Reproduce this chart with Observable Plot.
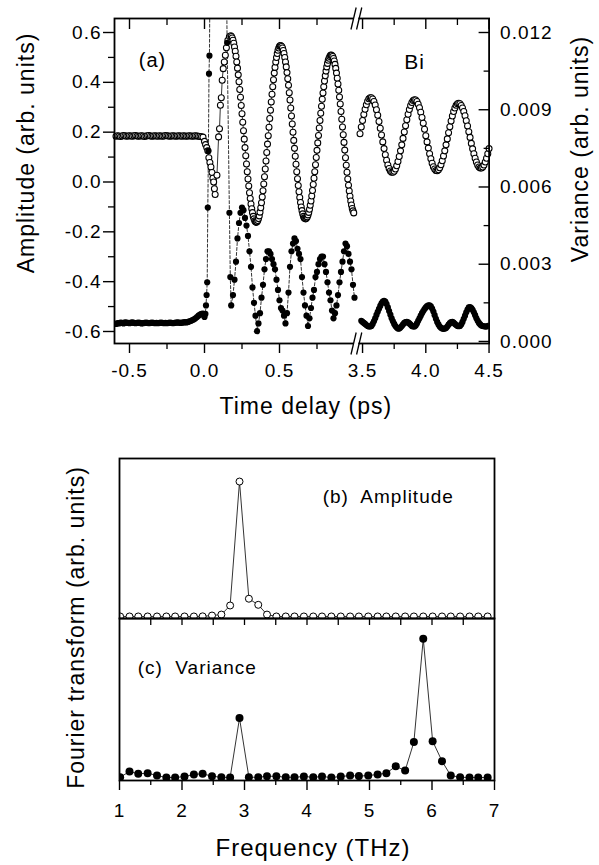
<!DOCTYPE html>
<html><head><meta charset="utf-8">
<script src="https://cdn.jsdelivr.net/npm/d3@7"></script>
<script src="https://cdn.jsdelivr.net/npm/@observablehq/plot@0.6"></script>
<style>
body{margin:0;background:#fff}
#fig{position:relative;width:599px;height:865px;background:#fff}
#fig svg{position:absolute;left:0;top:0}
</style></head><body><div id="fig"></div>
<script>
// ---------- DATA ----------
// Panel (a): time delay (ps) vs amplitude (left axis, arb. units)
const amplitudeLeft = [[-0.59,.184],[-0.58,.186],[-0.57,.185],[-0.56,.183],[-0.55,.185],[-0.54,.187],[-0.53,.186],[-0.52,.184],[-0.51,.185],[-0.50,.186],
[-0.49,.185],[-0.48,.184],[-0.47,.186],[-0.46,.187],[-0.45,.185],[-0.44,.184],[-0.43,.185],[-0.42,.186],[-0.41,.185],[-0.40,.183],
[-0.39,.185],[-0.38,.186],[-0.37,.187],[-0.36,.185],[-0.35,.184],[-0.34,.185],[-0.33,.186],[-0.32,.185],[-0.31,.184],[-0.30,.186],
[-0.29,.185],[-0.28,.184],[-0.27,.185],[-0.26,.187],[-0.25,.186],[-0.24,.185],[-0.23,.184],[-0.22,.185],[-0.21,.186],[-0.20,.185],
[-0.19,.184],[-0.18,.185],[-0.17,.186],[-0.16,.185],[-0.15,.184],[-0.14,.186],[-0.13,.185],[-0.12,.184],[-0.11,.185],[-0.10,.186],
[-0.09,.185],[-0.08,.184],[-0.07,.185],[-0.06,.186],[-0.05,.185],[-0.04,.184],[-0.03,.183],[-0.02,.182],[-0.01,.18],
[0,.163],[0.007,.15],[0.015,.138],[0.022,.125],[0.029,.097],[0.036,.078],[0.043,.06],[0.05,.038],[0.056,.015],[0.061,0],[0.066,-.027],[0.071,-.05],
[0.083,.027],[0.094,.181],[0.1,.214],[0.106,.308],[0.112,.338],[0.118,.408],[0.125,.455],[0.132,.482],[0.139,.509],[0.146,.539],[0.156,.569],[0.166,.584],[0.175,.587],
[0.18,.584],[0.185,.578],[0.19,.569],[0.195,.557],[0.2,.542],[0.205,.525],[0.21,.505],[0.215,.482],[0.22,.457],[0.225,.43],[0.23,.402],[0.235,.371],[0.24,.34],[0.245,.307],[0.25,.274],[0.255,.24],[0.26,.206],[0.265,.172],[0.27,.138],[0.275,.105],
[0.28,.072],[0.285,.041],[0.29,.012],[0.295,-.016],[0.3,-.043],[0.305,-.066],[0.31,-.088],[0.315,-.107],[0.32,-.123],[0.325,-.138],[0.33,-.148],[0.335,-.156],[0.34,-.16],[0.345,-.162],[0.35,-.16],[0.355,-.155],[0.36,-.147],[0.365,-.136],[0.37,-.121],[0.375,-.103],
[0.38,-.083],[0.385,-.06],[0.39,-.035],[0.395,-.008],[0.4,.021],[0.405,.052],[0.41,.084],[0.415,.118],[0.42,.152],[0.425,.186],[0.43,.22],[0.435,.255],[0.44,.288],[0.445,.321],[0.45,.352],[0.455,.382],[0.46,.41],[0.465,.437],[0.47,.46],[0.475,.482],
[0.48,.5],[0.485,.516],[0.49,.529],[0.495,.538],[0.5,.545],[0.505,.548],[0.51,.547],[0.515,.544],[0.52,.538],[0.525,.528],[0.53,.516],[0.535,.5],[0.54,.482],[0.545,.462],[0.55,.439],[0.555,.414],[0.56,.388],[0.565,.358],[0.57,.329],[0.575,.297],
[0.58,.265],[0.585,.233],[0.59,.2],[0.595,.167],[0.6,.135],[0.605,.103],[0.61,.071],[0.615,.041],[0.62,.013],[0.625,-.014],[0.63,-.039],[0.635,-.062],[0.64,-.082],[0.645,-.1],[0.65,-.115],[0.655,-.128],[0.66,-.138],[0.665,-.144],[0.67,-.147],[0.675,-.148],
[0.68,-.145],[0.685,-.14],[0.69,-.132],[0.695,-.122],[0.7,-.109],[0.705,-.093],[0.71,-.076],[0.715,-.056],[0.72,-.034],[0.725,-.01],[0.73,.015],[0.735,.041],[0.74,.069],[0.745,.098],[0.75,.127],[0.755,.157],[0.76,.187],[0.765,.217],[0.77,.247],[0.775,.276],
[0.78,.304],[0.785,.332],[0.79,.357],[0.795,.382],[0.8,.405],[0.805,.426],[0.81,.445],[0.815,.462],[0.82,.476],[0.825,.489],[0.83,.497],[0.835,.504],[0.84,.509],[0.845,.51],[0.85,.508],[0.855,.504],[0.86,.496],[0.865,.486],[0.87,.472],[0.875,.456],
[0.88,.437],[0.885,.416],[0.89,.393],[0.895,.368],[0.9,.341],[0.905,.313],[0.91,.283],[0.915,.252],[0.92,.221],[0.925,.19],[0.93,.159],[0.935,.128],[0.94,.097],[0.945,.067],[0.95,.039],[0.955,.012],[0.96,-.013],[0.965,-.036],[0.97,-.057],[0.975,-.076],
[0.98,-.092],[0.985,-.106],[0.99,-.116],[0.995,-.124]];

const amplitudeRight = [[3.48,.194],[3.49,.221],[3.5,.247],[3.51,.271],[3.52,.292],[3.53,.31],[3.54,.324],[3.55,.334],[3.56,.338],[3.57,.338],[3.58,.333],[3.59,.323],[3.6,.309],[3.61,.29],[3.62,.268],[3.63,.243],[3.64,.216],[3.65,.189],[3.66,.161],[3.67,.134],[3.68,.109],[3.69,.087],[3.7,.068],[3.71,.054],[3.72,.044],[3.73,.039],
[3.74,.039],[3.75,.043],[3.76,.052],[3.77,.065],[3.78,.082],[3.79,.102],[3.8,.125],[3.81,.149],[3.82,.175],[3.83,.201],[3.84,.226],[3.85,.25],[3.86,.272],[3.87,.291],[3.88,.307],[3.89,.319],[3.9,.327],[3.91,.33],
[3.92,.329],[3.93,.323],[3.94,.312],[3.95,.298],[3.96,.28],[3.97,.259],[3.98,.236],[3.99,.212],[4,.186],[4.01,.161],[4.02,.136],[4.03,.113],[4.04,.093],[4.05,.075],[4.06,.061],[4.07,.052],[4.08,.046],
[4.09,.045],[4.1,.049],[4.11,.057],[4.12,.069],[4.13,.085],[4.14,.104],[4.15,.125],[4.16,.149],[4.17,.173],[4.18,.198],[4.19,.222],[4.2,.245],[4.21,.265],[4.22,.283],[4.23,.297],[4.24,.308],[4.25,.314],
[4.26,.316],[4.27,.314],[4.28,.307],[4.29,.297],[4.3,.283],[4.31,.266],[4.32,.246],[4.33,.225],[4.34,.202],[4.35,.179],[4.36,.155],[4.37,.133],[4.38,.113],[4.39,.095],[4.4,.08],[4.41,.068],[4.42,.06],[4.43,.056],
[4.44,.056],[4.45,.06],[4.46,.068],[4.47,.08],[4.48,.095],[4.49,.113],[4.5,.134]];

// Panel (a): variance (right axis)
const varianceLeft = [[-0.59,.00068],[-0.58,.00071],[-0.57,.0007],[-0.56,.00073],[-0.55,.00072],[-0.54,.0007],[-0.53,.00074],[-0.52,.00073],[-0.51,.00072],[-0.50,.00071],
[-0.49,.00073],[-0.48,.00074],[-0.47,.00072],[-0.46,.00071],[-0.45,.00072],[-0.44,.00073],[-0.43,.00072],[-0.42,.0007],[-0.41,.00071],[-0.40,.00072],
[-0.39,.00073],[-0.38,.00072],[-0.37,.00071],[-0.36,.00072],[-0.35,.00073],[-0.34,.00072],[-0.33,.00071],[-0.32,.00072],[-0.31,.00071],[-0.30,.00072],
[-0.29,.00073],[-0.28,.00072],[-0.27,.00071],[-0.26,.00072],[-0.25,.00071],[-0.24,.00072],[-0.23,.00073],[-0.22,.00072],[-0.21,.00071],[-0.20,.00072],
[-0.19,.00073],[-0.18,.00074],[-0.17,.00073],[-0.16,.00072],[-0.15,.00073],[-0.14,.00074],[-0.13,.00075],[-0.12,.00074],[-0.11,.00076],[-0.10,.00078],
[-0.09,.0008],[-0.08,.00083],[-0.07,.00086],[-0.06,.0009],[-0.05,.00095],[-0.04,.001],[-0.03,.00104],[-0.02,.00107],[-0.01,.00108],
[0,.00095],[0.006,.00107],[0.01,.0014],[0.014,.0018],[0.018,.0023],[0.022,.0052],[0.026,.0074],[0.03,.0104],[0.033,.0111],[0.04,.017],[0.06,.026],[0.09,.03],[0.12,.026],[0.14,.018],[0.146,.014],[0.151,.0116],[0.166,.005],[0.172,.0025],[0.178,.0014],
[0.19,.0018],[0.2,.0024],[0.21,.0031],[0.22,.004],[0.23,.0046],[0.24,.005],[0.25,.0052],[0.26,.0051],[0.27,.0048],[0.28,.0045],[0.29,.0041],[0.3,.0035],[0.31,.0029],[0.32,.0021],[0.33,.0015],[0.34,.001],[0.35,.0004],
[0.36,.0007],[0.37,.0011],[0.38,.0017],[0.39,.0022],[0.4,.0028],[0.41,.0032],[0.42,.0035],[0.43,.0035],[0.44,.0034],[0.45,.0032],[0.46,.003],[0.47,.0028],[0.48,.0024],[0.49,.002],[0.5,.0016],[0.51,.0013],[0.52,.0012],[0.53,.001],[0.54,.0007],
[0.55,.0011],[0.56,.0019],[0.57,.0029],[0.58,.0035],[0.59,.0038],[0.6,.004],[0.61,.0039],[0.62,.0036],[0.63,.0034],[0.64,.0032],[0.65,.0025],[0.66,.0019],[0.67,.0014],[0.68,.001],[0.69,.0006],
[0.7,.0009],[0.71,.0013],[0.72,.0017],[0.73,.002],[0.74,.0025],[0.75,.0027],[0.76,.003],[0.77,.0032],[0.78,.0033],[0.79,.0033],[0.8,.003],[0.81,.0027],[0.82,.0023],[0.83,.0019],[0.84,.0016],[0.85,.0012],[0.86,.0009],
[0.87,.0011],[0.88,.0014],[0.89,.0018],[0.9,.0023],[0.91,.0027],[0.92,.0031],[0.93,.0035],[0.94,.0038],[0.95,.0037],[0.96,.0034],[0.97,.0031],[0.98,.0028],[0.99,.0022],[1.0,.0017]];

const varianceRight = [[3.49,.0008],[3.5,.00076],[3.51,.00072],[3.52,.00068],[3.53,.00064],[3.54,.0006],[3.55,.00058],[3.56,.00058],[3.57,.0006],[3.58,.00068],[3.59,.00078],[3.6,.0009],[3.61,.00103],[3.62,.00115],[3.63,.00127],[3.64,.00138],[3.65,.00148],[3.66,.00155],[3.67,.00158],[3.68,.00155],[3.69,.00145],[3.7,.00132],[3.71,.00118],[3.72,.00104],[3.73,.0009],[3.74,.00078],[3.75,.00068],[3.76,.0006],[3.77,.00054],[3.78,.0005],[3.79,.0005],
[3.8,.00054],[3.81,.0006],[3.82,.00066],[3.83,.00072],[3.84,.00075],[3.85,.00076],[3.86,.00074],[3.87,.0007],[3.88,.00065],[3.89,.0006],[3.9,.00058],[3.91,.00058],[3.92,.00062],[3.93,.0007],[3.94,.0008],[3.95,.0009],[3.96,.001],[3.97,.0011],[3.98,.00118],[3.99,.00126],
[4,.00132],[4.01,.00137],[4.02,.0014],[4.03,.0014],[4.04,.00136],[4.05,.00128],[4.06,.00116],[4.07,.00102],[4.08,.00088],[4.09,.00076],[4.1,.00066],[4.11,.00058],[4.12,.00053],[4.13,.0005],[4.14,.00049],[4.15,.0005],[4.16,.00052],[4.17,.00058],[4.18,.00065],[4.19,.00071],
[4.2,.00075],[4.21,.00076],[4.22,.00073],[4.23,.00068],[4.24,.00064],[4.25,.0006],[4.26,.00059],[4.27,.0006],[4.28,.00066],[4.29,.00076],[4.3,.00088],[4.31,.001],[4.32,.00113],[4.33,.00124],[4.34,.00132],[4.35,.00133],[4.36,.0013],[4.37,.00123],[4.38,.00113],[4.39,.00102],
[4.4,.0009],[4.41,.0008],[4.42,.00072],[4.43,.00066],[4.44,.00062],[4.45,.0006],[4.46,.00059],[4.47,.00058],[4.48,.00058],[4.49,.0006],[4.5,.00062]];

// Panels (b), (c): Fourier transforms (arb. units) vs frequency (THz)
const frequency = [1.01,1.16,1.30,1.45,1.60,1.75,1.89,2.04,2.19,2.33,2.48,2.63,2.77,2.92,3.07,3.22,3.36,3.51,3.66,3.80,3.95,4.10,4.24,4.39,4.54,4.69,4.83,4.98,5.13,5.27,5.42,5.57,5.71,5.86,6.01,6.16,6.30,6.45,6.60,6.74,6.89];
const ftAmplitude = [.004,.004,.004,.004,.004,.004,.004,.004,.004,.005,.011,.018,.085,1.0,.135,.09,.018,.004,.004,.004,.004,.004,.004,.004,.004,.004,.004,.004,.004,.004,.004,.004,.004,.004,.004,.004,.004,.004,.004,.004,.004];
const ftVariance = [.002,.043,.027,.031,.014,0,0,.007,.022,.027,.009,.002,0,.428,.002,.002,.009,.009,.002,.002,.007,.002,.007,0,.007,.014,.01,.014,.022,.031,.081,.05,.255,1.0,.262,.118,.014,.002,0,0,0];

// Axis tick values and labels
const timeTicks = [-0.5, 0, 0.5, 3.5, 4.0, 4.5];
const timeMinorTicks = [-0.25, 0.25, 0.75, 3.75, 4.25];
const amplitudeTicks = [-0.6, -0.4, -0.2, 0, 0.2, 0.4, 0.6];
const amplitudeMinorTicks = [-0.5, -0.3, -0.1, 0.1, 0.3, 0.5];
const varianceTicks = [0, 0.003, 0.006, 0.009, 0.012];
const varianceMinorTicks = [0.0015, 0.0045, 0.0075, 0.0105];
const frequencyTicks = [1, 2, 3, 4, 5, 6, 7];
const frequencyMinorTicks = [1.5, 2.5, 3.5, 4.5, 5.5, 6.5];
const frequencyTopTicks = [1.5, 2, 2.5, 3, 3.5, 4, 4.5, 5, 5.5, 6, 6.5];
const axisBreak = [1.005, 3.46];   // time axis jumps from ~1 ps to ~3.46 ps

// ---------- LAYOUT / SCALES ----------
const W = 599, H = 865;
const FONT = '"Liberation Sans", Arial, Helvetica, sans-serif';
// broken time axis: two linear pieces mapped to one continuous coordinate
const toU = t => (t < 2 ? 150 * t : 221.3 + 126.5 * (t - 4));
const fromU = u => (u < 152 ? u / 150 : 4 + (u - 221.3) / 126.5);
// right (variance) axis expressed in left-axis units
const V0 = -0.640, VK = 1.240 / 0.012;
const varToY = v => V0 + v * VK;
const yToVar = y => (y - V0) / VK;

const rows = (pairs, seg) => pairs.map(([t, v]) => ({u: toU(t), v, seg}));
const ampRows = [...rows(amplitudeLeft, "L"), ...rows(amplitudeRight, "R")];
const varRows = [...rows(varianceLeft, "L"), ...rows(varianceRight, "R")].map(d => ({...d, y: varToY(d.v)}));

const yDomA = [-0.6482, 0.6562];
const pxA = (yDomA[1] - yDomA[0]) / (343 - 18);
const bL = toU(axisBreak[0]), bR = toU(axisBreak[1]), bMid = (bL + bR) / 2;
const edges = [yDomA[1], yDomA[0]];
const slashes = edges.flatMap(e => [-2.8, 2.8].map(o => ({x1: bMid + o - 2.6, x2: bMid + o + 2.6, y1: e - 11 * pxA, y2: e + 11 * pxA})));

const styleBase = {background: "transparent", overflow: "visible", fontFamily: FONT, color: "black", letterSpacing: "1px"};
const TICKFS = 19;

const A = Plot.plot({
  width: W, height: H,
  marginLeft: 114, marginRight: W - 488.6, marginTop: 18, marginBottom: H - 343,
  style: styleBase,
  x: {domain: [-90, 284.6]},
  y: {domain: yDomA},
  marks: [
    Plot.line(ampRows, {x: "u", y: "v", z: "seg", stroke: "black", strokeWidth: 0.8}),
    Plot.line(varRows, {x: "u", y: "y", z: "seg", stroke: "black", strokeWidth: 0.8, strokeDasharray: "3,2", clip: true}),
    Plot.dot(ampRows, {x: "u", y: "v", r: 3, fill: "white", stroke: "black", strokeWidth: 1.05}),
    Plot.dot(varRows, {x: "u", y: "y", r: 3.1, fill: "black", clip: true}),
    Plot.frame({stroke: "black", strokeWidth: 1.8}),
    // axis break
    Plot.rect(edges, {x1: () => bMid - 2.4, x2: () => bMid + 2.4, y1: e => e - 2.5 * pxA, y2: e => e + 2.5 * pxA, fill: "white"}),
    Plot.link(slashes, {x1: "x1", y1: "y1", x2: "x2", y2: "y2", stroke: "black", strokeWidth: 1.3}),
    // bottom axis
    Plot.axisX(timeTicks.map(toU), {anchor: "bottom", tickSize: 10, tickPadding: 10, strokeWidth: 1.4, fontSize: TICKFS, fontFamily: FONT, tickFormat: u => fromU(u).toFixed(1), label: null}),
    Plot.axisX(timeMinorTicks.map(toU), {anchor: "bottom", tickSize: 6, strokeWidth: 1.3, fill: "none"}),
    // top axis (inward ticks)
    Plot.axisX(timeTicks.map(toU), {anchor: "top", tickSize: 10, dy: 10, strokeWidth: 1.4, fill: "none"}),
    Plot.axisX(timeMinorTicks.map(toU), {anchor: "top", tickSize: 6, dy: 6, strokeWidth: 1.3, fill: "none"}),
    // left axis
    Plot.axisY(amplitudeTicks, {anchor: "left", tickSize: 11, tickPadding: 2, strokeWidth: 1.4, fontSize: TICKFS, fontFamily: FONT, tickFormat: d => d.toFixed(1), label: null}),
    Plot.axisY(amplitudeMinorTicks, {anchor: "left", tickSize: 6, strokeWidth: 1.3, fill: "none"}),
    // right axis (inward ticks)
    Plot.axisY(varianceTicks.map(varToY), {anchor: "right", tickSize: 11, dx: -11, strokeWidth: 1.4, fill: "none"}),
    Plot.axisY(varianceMinorTicks.map(varToY), {anchor: "right", tickSize: 6, dx: -6, strokeWidth: 1.3, fill: "none"}),
    Plot.axisY(varianceTicks.map(varToY), {anchor: "right", tickSize: 0, tickPadding: 11, fontSize: TICKFS, fontFamily: FONT, tickFormat: y => yToVar(y).toFixed(3), label: null}),
    // annotations
    Plot.text([{t: -0.347, v: 0.488, s: "(a)"}], {x: d => toU(d.t), y: "v", text: "s", fontSize: 20, fontFamily: FONT}),
    Plot.text([{t: 3.911, v: 0.48, s: "Bi"}], {x: d => toU(d.t), y: "v", text: "s", fontSize: 21, fontFamily: FONT}),
    Plot.text(["Time delay (ps)"], {frameAnchor: "bottom", lineAnchor: "middle", textAnchor: "middle", dx: 4, dy: 63, fontSize: 23, fontFamily: FONT}),
    Plot.text(["Amplitude (arb. units)"], {frameAnchor: "left", textAnchor: "middle", lineAnchor: "middle", rotate: -90, dx: -88, dy: -28, fontSize: 23, fontFamily: FONT}),
    Plot.text(["Variance (arb. units)"], {frameAnchor: "right", textAnchor: "middle", lineAnchor: "middle", rotate: -90, dx: 92, dy: -32, fontSize: 23, fontFamily: FONT})
  ]
});

const ftRowsA = frequency.map((f, i) => ({f, a: ftAmplitude[i]}));
const ftRowsV = frequency.map((f, i) => ({f, a: ftVariance[i]}));

const B = Plot.plot({
  width: W, height: H,
  marginLeft: 119, marginRight: W - 494, marginTop: 458, marginBottom: H - 618,
  style: styleBase,
  x: {domain: [1, 7], axis: null},
  y: {domain: [-0.011, 1.17], axis: null},
  marks: [
    Plot.line(ftRowsA, {x: "f", y: "a", stroke: "black", strokeWidth: 0.8}),
    Plot.dot(ftRowsA, {x: "f", y: "a", r: 3.5, fill: "white", stroke: "black", strokeWidth: 1, clip: true}),
    Plot.frame({stroke: "black", strokeWidth: 1.8}),
    Plot.text([{f: 4.25, a: 0.89, s: "(b)  Amplitude"}], {x: "f", y: "a", text: "s", textAnchor: "start", fontSize: 19, fontFamily: FONT})
  ]
});

const C = Plot.plot({
  width: W, height: H,
  marginLeft: 119, marginRight: W - 494, marginTop: 618, marginBottom: H - 780,
  style: styleBase,
  x: {domain: [1, 7]},
  y: {domain: [-0.0216, 1.146], axis: null},
  marks: [
    Plot.line(ftRowsV, {x: "f", y: "a", stroke: "black", strokeWidth: 0.8}),
    Plot.dot(ftRowsV, {x: "f", y: "a", r: 4, fill: "black", clip: true}),
    Plot.frame({stroke: "black", strokeWidth: 1.8}),
    Plot.axisX(frequencyTicks, {anchor: "bottom", tickSize: 10, tickPadding: 13, strokeWidth: 1.4, fontSize: TICKFS, fontFamily: FONT, tickFormat: d => String(d), label: null}),
    Plot.axisX(frequencyMinorTicks, {anchor: "bottom", tickSize: 5, strokeWidth: 1.3, fill: "none"}),
    Plot.axisX(frequencyTopTicks, {anchor: "top", tickSize: 6, dy: 6, strokeWidth: 1.3, fill: "none"}),
    Plot.text([{f: 1.29, a: 0.793, s: "(c)  Variance"}], {x: "f", y: "a", text: "s", textAnchor: "start", fontSize: 19, fontFamily: FONT}),
    Plot.text(["Frequency (THz)"], {frameAnchor: "bottom", lineAnchor: "middle", textAnchor: "middle", dx: 6, dy: 68, fontSize: 24, fontFamily: FONT}),
    Plot.text(["Fourier transform (arb. units)"], {frameAnchor: "left", textAnchor: "middle", lineAnchor: "middle", rotate: -90, dx: -43, dy: -72, fontSize: 23, fontFamily: FONT})
  ]
});

document.getElementById("fig").append(A, B, C);
</script></body></html>
